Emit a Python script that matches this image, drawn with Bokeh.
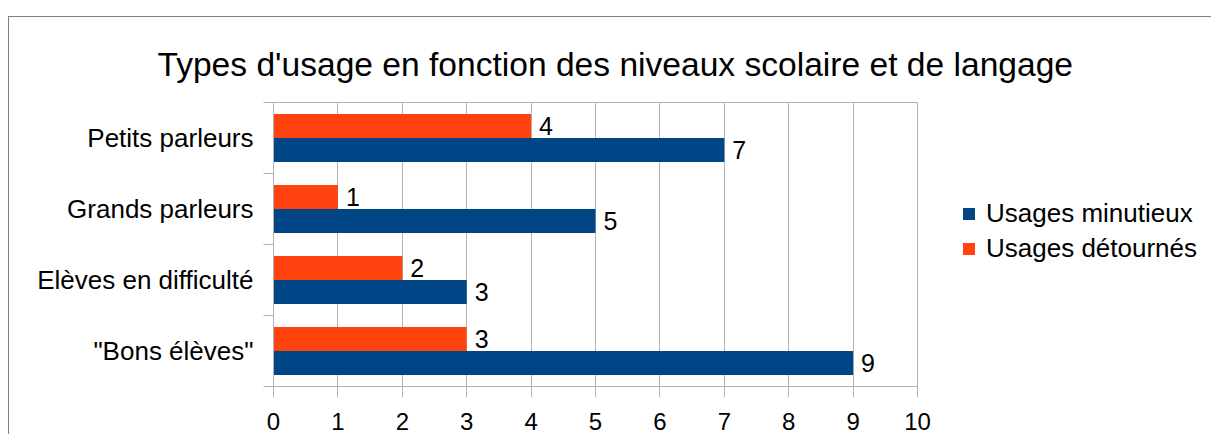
from bokeh.plotting import figure
from bokeh.models import (ColumnDataSource, FixedTicker, Range1d, LabelSet, Title,
                          Legend, LegendItem)
from bokeh.core.properties import value
from bokeh.transform import dodge
from bokeh.embed import file_html
from bokeh.resources import INLINE

# ---- data (bottom to top) ----
categories = ['"Bons élèves"', "Elèves en difficulté", "Grands parleurs", "Petits parleurs"]
usages_minutieux = [9, 3, 5, 7]
usages_detournes = [3, 2, 1, 4]
series_names = ["Usages minutieux", "Usages détournés"]
x_ticks = list(range(0, 11))
title_text = "Types d'usage en fonction des niveaux scolaire et de langage"

BLUE = "#004586"
ORANGE = "#ff420e"
GRID = "#b3b3b3"
FONT = "Liberation Sans"

pos = [i + 0.5 for i in range(len(categories))]
src = ColumnDataSource(dict(
    y=pos, cat=categories,
    mini=usages_minutieux, deto=usages_detournes,
    mini_t=[str(v) for v in usages_minutieux],
    deto_t=[str(v) for v in usages_detournes],
))

p = figure(frame_width=644, frame_height=284,
           min_border_left=264, min_border_top=85, min_border_bottom=48, min_border_right=294,
           x_range=Range1d(0, 10), y_range=Range1d(0, len(categories)),
           output_backend="svg", toolbar_location=None)
p.styles = {"margin-top": "16px", "margin-left": "8px",
            "border-top": "1px solid #808080", "border-left": "1px solid #808080"}

bh = 0.338
rb = p.hbar(y=dodge("y", -bh / 2, range=p.y_range), right="mini", left=0, height=bh,
            source=src, fill_color=BLUE, line_color=None)
ro = p.hbar(y=dodge("y", bh / 2, range=p.y_range), right="deto", left=0, height=bh,
            source=src, fill_color=ORANGE, line_color=None)

lbl_kw = dict(x_offset=8, text_baseline="middle", text_align="left",
              text_font=value(FONT), text_font_size=value("25px"), text_color="#000000")
p.add_layout(LabelSet(x="mini", y=dodge("y", -bh / 2, range=p.y_range), text="mini_t",
                      source=src, **lbl_kw))
p.add_layout(LabelSet(x="deto", y=dodge("y", bh / 2, range=p.y_range), text="deto_t",
                      source=src, **lbl_kw))

# x axis
xa = p.xaxis[0]
xa.ticker = FixedTicker(ticks=x_ticks)
xa.axis_line_color = GRID
xa.major_tick_line_color = GRID
xa.major_tick_out = 11
xa.major_tick_in = 0
xa.minor_tick_line_color = None
xa.major_label_text_font = FONT
xa.major_label_text_font_size = "24px"
xa.major_label_text_color = "#000000"
xa.major_label_standoff = 15

# y axis
ya = p.yaxis[0]
ya.ticker = FixedTicker(ticks=pos, minor_ticks=list(range(len(categories) + 1)))
ya.major_label_overrides = {pv: c for pv, c in zip(pos, categories)}
ya.axis_line_color = GRID
ya.major_tick_line_color = None
ya.major_tick_out = 10
ya.major_tick_in = 0
ya.minor_tick_line_color = GRID
ya.minor_tick_out = 10
ya.minor_tick_in = 0
ya.major_label_text_font = FONT
ya.major_label_text_font_size = "26px"
ya.major_label_text_color = "#000000"
ya.major_label_standoff = 10

p.xgrid.grid_line_color = GRID
p.xgrid.ticker = FixedTicker(ticks=x_ticks)
p.ygrid.grid_line_color = None
p.outline_line_color = GRID

legend = Legend(items=[LegendItem(label=series_names[0], renderers=[rb]),
                       LegendItem(label=series_names[1], renderers=[ro])],
                location=(44, 122), padding=0, margin=0, spacing=4,
                glyph_width=15, glyph_height=15, label_standoff=10,
                label_text_font=FONT, label_text_font_size="26px",
                label_text_color="#000000",
                border_line_color=None, background_fill_alpha=0)
p.add_layout(legend, "right")

title = Title(text=title_text, align="left", offset=-116, standoff=40,
              text_font=FONT, text_font_size="33.6px", text_font_style="normal",
              text_color="#000000")
p.add_layout(title, "above")

open("out.html", "w").write(file_html(p, INLINE))
